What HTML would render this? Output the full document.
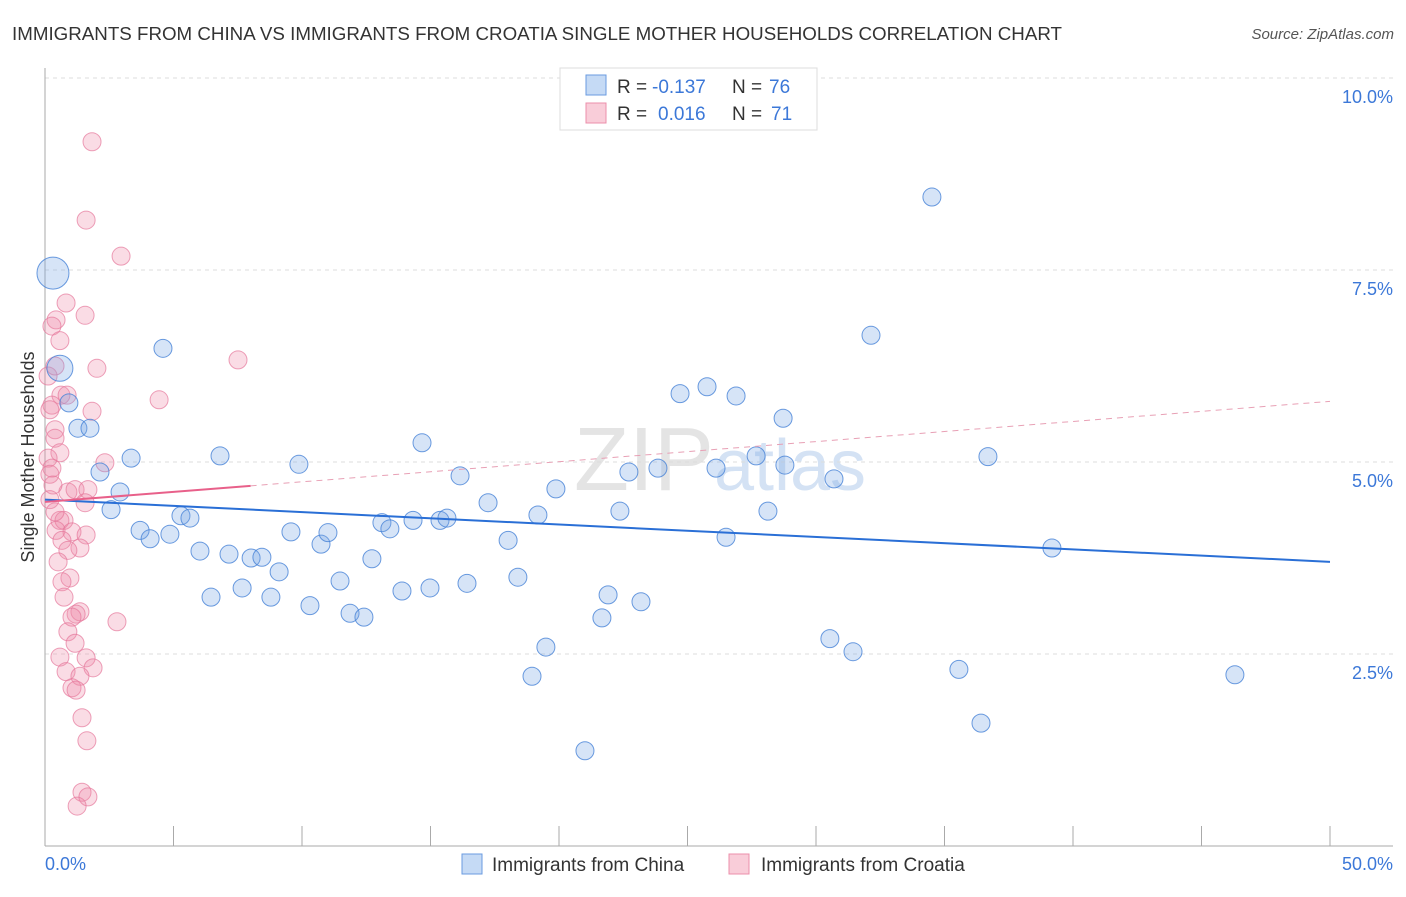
<!DOCTYPE html>
<html><head><meta charset="utf-8"><style>
body{margin:0;background:#fff;font-family:"Liberation Sans",sans-serif;}
svg text{font-family:"Liberation Sans",sans-serif;}
</style></head><body>
<svg width="1406" height="892" xmlns="http://www.w3.org/2000/svg">
<text x="12" y="40" font-size="18" fill="#333" textLength="1050" lengthAdjust="spacingAndGlyphs">IMMIGRANTS FROM CHINA VS IMMIGRANTS FROM CROATIA SINGLE MOTHER HOUSEHOLDS CORRELATION CHART</text>
<text x="1394" y="39" font-size="15" fill="#555" font-style="italic" text-anchor="end">Source: ZipAtlas.com</text>
<text x="720" y="490" font-size="90" fill="#e4e4e4" text-anchor="middle" font-family="Liberation Serif">ZIP<tspan fill="#d4e2f4" font-family="Liberation Sans" font-size="72">atlas</tspan></text>
<g id="grid"></g>
<g id="axes"></g>
<g id="pts"></g>
<g id="trend"></g>
<text transform="translate(34,457) rotate(-90)" font-size="18" fill="#333" text-anchor="middle">Single Mother Households</text>
<text x="45" y="870" font-size="18" fill="#3c78d8">0.0%</text>
<text x="1393" y="870" font-size="18" fill="#3c78d8" text-anchor="end">50.0%</text>
<g>
<rect x="560" y="68" width="257" height="62" fill="#fff" stroke="#ddd"/>
<rect x="586" y="75" width="20" height="20" fill="#c5daf5" stroke="#6a9be0"/>
<rect x="586" y="103" width="20" height="20" fill="#f9cdd9" stroke="#ec8fab"/>
<text x="617" y="93" font-size="19" fill="#333">R =</text>
<text x="652" y="93" font-size="19" fill="#3c78d8">-0.137</text>
<text x="732" y="93" font-size="19" fill="#333">N =</text>
<text x="769" y="93" font-size="19" fill="#3c78d8">76</text>
<text x="617" y="120" font-size="19" fill="#333">R =</text>
<text x="658" y="120" font-size="19" fill="#3c78d8">0.016</text>
<text x="732" y="120" font-size="19" fill="#333">N =</text>
<text x="771" y="120" font-size="19" fill="#3c78d8">71</text>
</g>
<g>
<rect x="462" y="854" width="20" height="20" fill="#c5daf5" stroke="#6a9be0"/>
<text x="492" y="871" font-size="19" fill="#333">Immigrants from China</text>
<rect x="729" y="854" width="20" height="20" fill="#f9cdd9" stroke="#ec8fab"/>
<text x="761" y="871" font-size="19" fill="#333">Immigrants from Croatia</text>
</g>
</svg>
<script>
const yTicks=[2.5,5,7.5,10];
const yTickLabels=["2.5%","5.0%","7.5%","10.0%"];
const xTicks=[0,5,10,15,20,25,30,35,40,45,50];
const chinaX=[0.31,0.58,0.93,1.28,1.75,2.14,2.57,2.92,3.35,3.70,4.09,4.59,4.86,5.29,5.64,6.03,6.46,6.81,7.16,7.67,8.02,8.44,8.79,9.11,9.57,9.88,10.31,10.74,11.01,11.48,11.87,12.41,12.72,13.11,13.42,13.89,14.32,14.67,14.98,15.37,15.64,16.15,16.42,17.24,18.02,18.40,18.95,19.18,19.49,19.88,21.01,21.67,21.91,22.37,22.72,23.19,23.85,24.71,25.76,26.11,26.50,26.89,27.67,28.13,28.72,28.79,30.54,30.70,31.44,32.14,34.51,35.56,36.42,36.69,39.18,46.30];
const chinaY=[7.46,6.22,5.77,5.44,5.44,4.87,4.38,4.61,5.05,4.11,4.00,6.48,4.06,4.30,4.27,3.84,3.24,5.08,3.80,3.36,3.75,3.76,3.24,3.57,4.09,4.97,3.13,3.93,4.08,3.45,3.03,2.98,3.74,4.21,4.13,3.32,4.24,5.25,3.36,4.24,4.27,4.82,3.42,4.47,3.98,3.50,2.21,4.31,2.59,4.65,1.24,2.97,3.27,4.36,4.87,3.18,4.92,5.89,5.98,4.92,4.02,5.86,5.08,4.36,5.57,4.96,2.70,4.78,2.53,6.65,8.45,2.30,1.60,5.07,3.88,2.23];
const chinaSize=[16,13];
const croatiaX=[1.83,1.60,2.96,0.82,1.56,0.43,0.27,0.58,7.51,2.02,0.12,0.62,0.86,4.44,1.83,0.27,0.39,0.39,0.58,0.12,2.33,0.27,0.19,0.89,1.17,1.67,1.56,0.58,0.74,0.43,1.05,1.60,0.66,1.36,0.89,0.51,0.97,0.66,0.74,1.36,1.21,2.80,1.05,0.89,1.17,0.58,1.60,1.87,0.82,1.36,1.05,1.21,1.44,1.63,1.44,1.67,1.25,0.39,0.19,0.31,0.19,0.39];
const croatiaY=[9.17,8.15,7.68,7.07,6.91,6.85,6.77,6.58,6.33,6.22,6.12,5.87,5.87,5.81,5.66,5.74,5.42,5.31,5.12,5.05,4.99,4.92,4.84,4.61,4.64,4.64,4.47,4.24,4.24,4.11,4.09,4.05,3.98,3.88,3.85,3.70,3.49,3.44,3.24,3.05,3.02,2.92,2.98,2.79,2.64,2.46,2.45,2.32,2.27,2.21,2.06,2.03,1.67,1.37,0.70,0.64,0.52,6.25,5.68,4.70,4.51,4.35];
const chinaTrend=[4.51,3.70];
const croatiaTrend=[4.48,5.79];
const croatiaSolidEnd=8;

const NS="http://www.w3.org/2000/svg";
const X=v=>45+v*25.7, Y=v=>846-v*76.8;
function mk(tag,attrs,parent){const e=document.createElementNS(NS,tag);for(const k in attrs)e.setAttribute(k,attrs[k]);parent.appendChild(e);return e;}
const grid=document.getElementById('grid'),axes=document.getElementById('axes'),pts=document.getElementById('pts'),tr=document.getElementById('trend');
yTicks.forEach((t,i)=>{
 const l=mk('line',{x1:45,x2:1393,y1:Y(t),y2:Y(t),stroke:'#ddd','stroke-dasharray':'4,4'},grid);
 
 
 const tx=mk('text',{x:1393,y:Y(t)+25,'font-size':18,fill:'#3c78d8','text-anchor':'end'},grid);
 tx.textContent=yTickLabels[i];
 
 
});
const ax=mk('line',{x1:45,x2:45,y1:68,y2:846,stroke:'#aaa'},axes);


const bx=mk('line',{x1:45,x2:1393,y1:846,y2:846,stroke:'#aaa'},axes);


xTicks.forEach(t=>{
 const l=mk('line',{x1:X(t),x2:X(t),y1:826,y2:846,stroke:'#aaa'},axes);
 
 
});
croatiaX.forEach((v,i)=>{
 const c=mk('circle',{cx:X(v),cy:Y(croatiaY[i]),r:9,fill:'rgba(240,140,170,0.3)',stroke:'rgba(230,120,155,0.7)','stroke-width':1},pts);
 
 
});
chinaX.forEach((v,i)=>{
 const c=mk('circle',{cx:X(v),cy:Y(chinaY[i]),r:chinaSize[i]||9,fill:'rgba(120,165,230,0.3)',stroke:'rgba(70,130,215,0.8)','stroke-width':1},pts);
 
 
});
const bl=mk('line',{x1:X(0),y1:Y(chinaTrend[0]),x2:X(50),y2:Y(chinaTrend[1]),stroke:'#2a6fd6','stroke-width':2},tr);


const pAt=x=>croatiaTrend[0]+(croatiaTrend[1]-croatiaTrend[0])*x/50;
const pl=mk('line',{x1:X(0),y1:Y(pAt(0)),x2:X(croatiaSolidEnd),y2:Y(pAt(croatiaSolidEnd)),stroke:'#e8608a','stroke-width':2},tr);


const pd=mk('line',{x1:X(croatiaSolidEnd),y1:Y(pAt(croatiaSolidEnd)),x2:X(50),y2:Y(pAt(50)),stroke:'#e8a0b5','stroke-width':1,'stroke-dasharray':'6,5'},tr);


</script>
</body></html>
